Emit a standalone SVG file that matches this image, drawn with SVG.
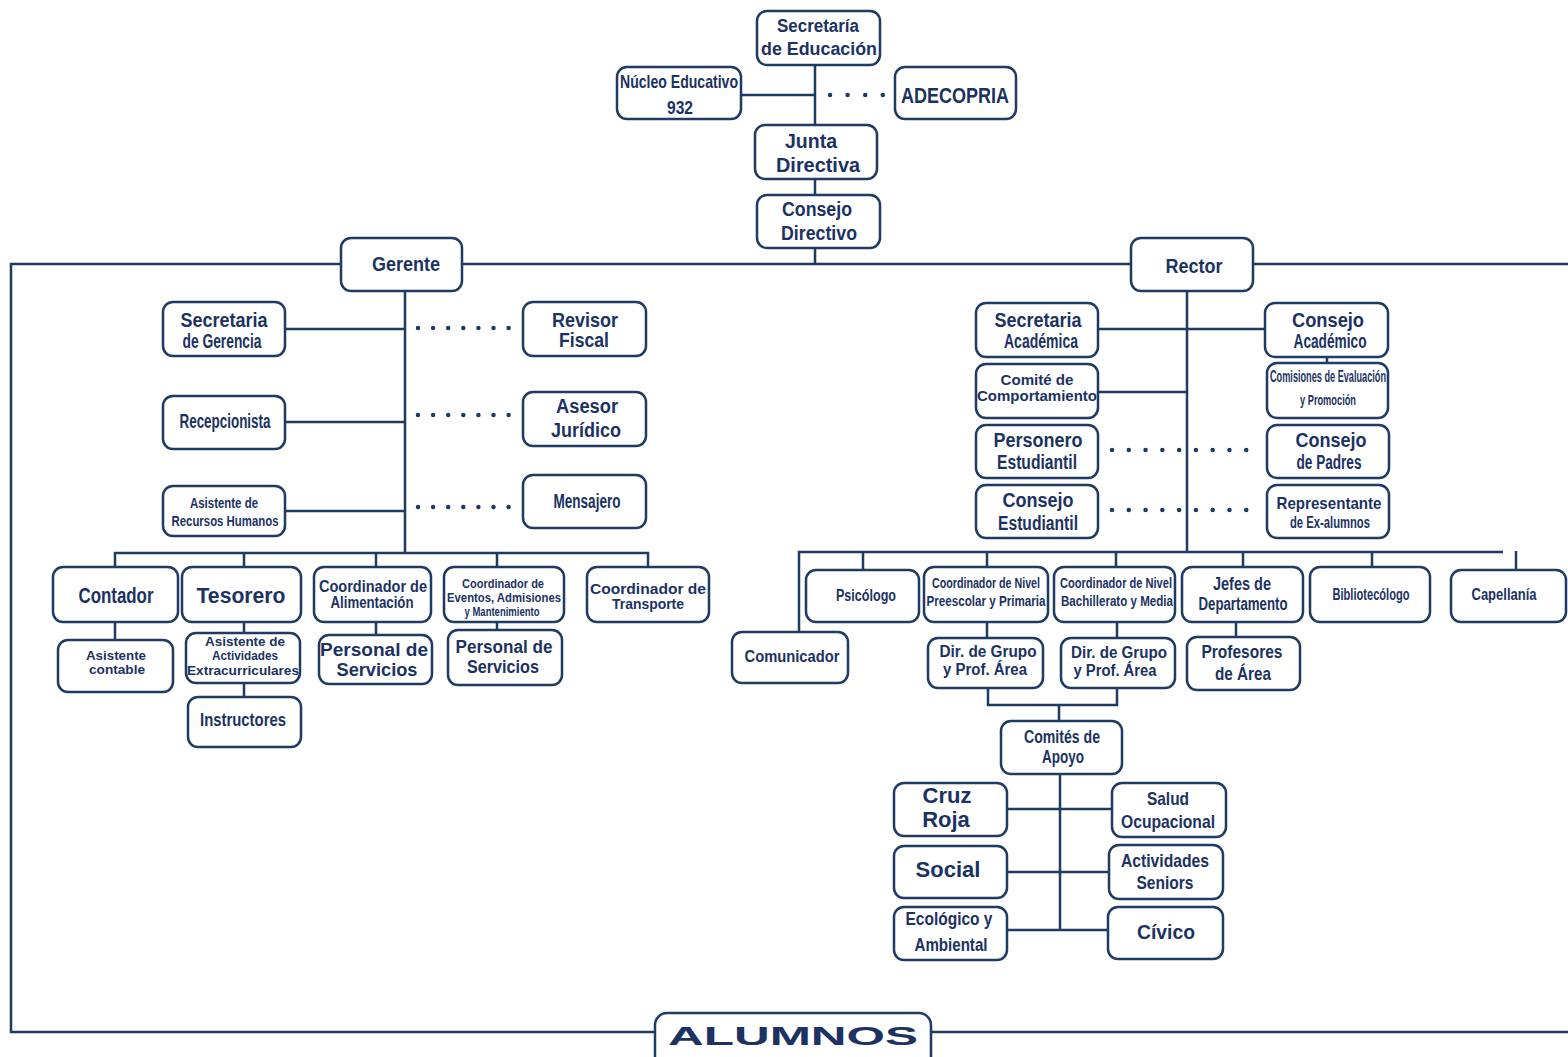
<svg xmlns="http://www.w3.org/2000/svg" width="1568" height="1057" viewBox="0 0 1568 1057">
<style>
.b{fill:#fff;stroke:#1f3a63;stroke-width:2.5}
.t{font-family:"Liberation Sans",Arial,sans-serif;font-weight:bold;fill:#1b3263;text-anchor:middle}
.c{stroke:#1f3a63;stroke-width:2.5;fill:none}
.d{stroke:#1f3a63;stroke-width:4.5;stroke-linecap:round;fill:none}
</style>
<rect width="1568" height="1057" fill="#fff"/>
<g id="connectors">
<path class="c" d="M1568,264 H11 V1032 H655 M931,1032 H1568"/>
<path class="c" d="M815,65 V125 M815,178 V195 M815,247 V264 M741,95 H815"/>
<line class="d" x1="830" y1="95" x2="883" y2="95" stroke-dasharray="0 17.6"/>
<path class="c" d="M405,291 V553 M285,329 H405 M285,422 H405 M285,511 H405"/>
<line class="d" x1="418" y1="328" x2="509" y2="328" stroke-dasharray="0 15.1"/>
<line class="d" x1="418" y1="415" x2="509" y2="415" stroke-dasharray="0 15.1"/>
<line class="d" x1="418" y1="507" x2="509" y2="507" stroke-dasharray="0 15.1"/>
<path class="c" d="M115,567 V553 H648 V567 M244,553 V567 M376,553 V567 M497,553 V567"/>
<path class="c" d="M115,622 V640 M244,622 V633 M244,683 V697 M376,622 V635 M497,622 V630"/>
<path class="c" d="M1187,291 V552 M1098,329 H1265 M1098,392 H1187 M1327,357 V363"/>
<line class="d" x1="1112" y1="450" x2="1263" y2="450" stroke-dasharray="0 16.78"/>
<line class="d" x1="1112" y1="510" x2="1263" y2="510" stroke-dasharray="0 16.78"/>
<path class="c" d="M799,632 V552 H1503 M863,552 V570 M987,552 V567 M1116,552 V567 M1243,552 V567 M1372,552 V567 M1516,551 V570"/>
<path class="c" d="M987,622 V638 M1117,622 V638 M1236,622 V637 M988,688 V705 H1117 V688 M1059,705 V721"/>
<path class="c" d="M1060,774 V930 M1007,809 H1112 M1007,872 H1109 M1007,930 H1108"/>
</g>
<g id="secretaria-educacion"><rect class="b" x="757" y="11" width="123" height="54" rx="10"/><text class="t" x="818" y="32" font-size="18" textLength="82" lengthAdjust="spacingAndGlyphs">Secretaría</text><text class="t" x="819" y="55" font-size="18" textLength="116" lengthAdjust="spacingAndGlyphs">de Educación</text></g>
<g id="nucleo-educativo"><rect class="b" x="617" y="67" width="124" height="52" rx="10"/><text class="t" x="679" y="88" font-size="19" textLength="118" lengthAdjust="spacingAndGlyphs">Núcleo Educativo</text><text class="t" x="680" y="114" font-size="19" textLength="26" lengthAdjust="spacingAndGlyphs">932</text></g>
<g id="adecopria"><rect class="b" x="895" y="67" width="121" height="52" rx="10"/><text class="t" x="955" y="103" font-size="22" textLength="108" lengthAdjust="spacingAndGlyphs">ADECOPRIA</text></g>
<g id="junta-directiva"><rect class="b" x="755" y="125" width="122" height="54" rx="10"/><text class="t" x="811" y="148" font-size="20" textLength="52" lengthAdjust="spacingAndGlyphs">Junta</text><text class="t" x="818" y="172" font-size="20" textLength="84" lengthAdjust="spacingAndGlyphs">Directiva</text></g>
<g id="consejo-directivo"><rect class="b" x="757" y="195" width="123" height="53" rx="10"/><text class="t" x="817" y="216" font-size="20" textLength="70" lengthAdjust="spacingAndGlyphs">Consejo</text><text class="t" x="819" y="240" font-size="20" textLength="76" lengthAdjust="spacingAndGlyphs">Directivo</text></g>
<g id="gerente"><rect class="b" x="341" y="238" width="121" height="53" rx="10"/><text class="t" x="406" y="271" font-size="21" textLength="68" lengthAdjust="spacingAndGlyphs">Gerente</text></g>
<g id="rector"><rect class="b" x="1131" y="238" width="122" height="53" rx="10"/><text class="t" x="1194" y="273" font-size="21" textLength="57" lengthAdjust="spacingAndGlyphs">Rector</text></g>
<g id="secretaria-gerencia"><rect class="b" x="163" y="302" width="122" height="54" rx="10"/><text class="t" x="224" y="327" font-size="21" textLength="87" lengthAdjust="spacingAndGlyphs">Secretaria</text><text class="t" x="222" y="348" font-size="20" textLength="79" lengthAdjust="spacingAndGlyphs">de Gerencia</text></g>
<g id="recepcionista"><rect class="b" x="163" y="396" width="122" height="53" rx="10"/><text class="t" x="225" y="428" font-size="20" textLength="91" lengthAdjust="spacingAndGlyphs">Recepcionista</text></g>
<g id="asistente-rrhh"><rect class="b" x="163" y="486" width="122" height="50" rx="10"/><text class="t" x="224" y="508" font-size="15" textLength="68" lengthAdjust="spacingAndGlyphs">Asistente de</text><text class="t" x="225" y="526" font-size="15" textLength="107" lengthAdjust="spacingAndGlyphs">Recursos Humanos</text></g>
<g id="revisor-fiscal"><rect class="b" x="523" y="302" width="123" height="54" rx="10"/><text class="t" x="585" y="327" font-size="20" textLength="66" lengthAdjust="spacingAndGlyphs">Revisor</text><text class="t" x="584" y="347" font-size="20" textLength="50" lengthAdjust="spacingAndGlyphs">Fiscal</text></g>
<g id="asesor-juridico"><rect class="b" x="523" y="392" width="123" height="54" rx="10"/><text class="t" x="587" y="413" font-size="20" textLength="62" lengthAdjust="spacingAndGlyphs">Asesor</text><text class="t" x="586" y="437" font-size="20" textLength="70" lengthAdjust="spacingAndGlyphs">Jurídico</text></g>
<g id="mensajero"><rect class="b" x="523" y="475" width="123" height="53" rx="10"/><text class="t" x="587" y="508" font-size="20" textLength="67" lengthAdjust="spacingAndGlyphs">Mensajero</text></g>
<g id="contador"><rect class="b" x="53" y="567" width="125" height="55" rx="10"/><text class="t" x="116" y="603" font-size="22" textLength="75" lengthAdjust="spacingAndGlyphs">Contador</text></g>
<g id="tesorero"><rect class="b" x="182" y="567" width="119" height="55" rx="10"/><text class="t" x="241" y="603" font-size="22" textLength="89" lengthAdjust="spacingAndGlyphs">Tesorero</text></g>
<g id="coordinador-alimentacion"><rect class="b" x="314" y="567" width="117" height="55" rx="10"/><text class="t" x="373" y="592" font-size="16" textLength="108" lengthAdjust="spacingAndGlyphs">Coordinador de</text><text class="t" x="372" y="608" font-size="16" textLength="83" lengthAdjust="spacingAndGlyphs">Alimentación</text></g>
<g id="coordinador-eventos"><rect class="b" x="444" y="567" width="120" height="55" rx="10"/><text class="t" x="503" y="588" font-size="12" textLength="82" lengthAdjust="spacingAndGlyphs">Coordinador de</text><text class="t" x="504" y="602" font-size="12.5" textLength="114" lengthAdjust="spacingAndGlyphs">Eventos, Admisiones</text><text class="t" x="502" y="616" font-size="12" textLength="75" lengthAdjust="spacingAndGlyphs">y Mantenimiento</text></g>
<g id="coordinador-transporte"><rect class="b" x="587" y="567" width="122" height="55" rx="10"/><text class="t" x="648" y="594" font-size="15.5" textLength="116" lengthAdjust="spacingAndGlyphs">Coordinador de</text><text class="t" x="648" y="609" font-size="15" textLength="72" lengthAdjust="spacingAndGlyphs">Transporte</text></g>
<g id="asistente-contable"><rect class="b" x="58" y="640" width="115" height="52" rx="10"/><text class="t" x="116" y="660" font-size="13" textLength="60" lengthAdjust="spacingAndGlyphs">Asistente</text><text class="t" x="117" y="674" font-size="13" textLength="56" lengthAdjust="spacingAndGlyphs">contable</text></g>
<g id="asistente-actividades"><rect class="b" x="186" y="633" width="114" height="50" rx="10"/><text class="t" x="245" y="646" font-size="13" textLength="80" lengthAdjust="spacingAndGlyphs">Asistente de</text><text class="t" x="245" y="660" font-size="13" textLength="66" lengthAdjust="spacingAndGlyphs">Actividades</text><text class="t" x="243" y="675" font-size="13" textLength="112" lengthAdjust="spacingAndGlyphs">Extracurriculares</text></g>
<g id="instructores"><rect class="b" x="188" y="697" width="113" height="50" rx="10"/><text class="t" x="243" y="726" font-size="18" textLength="86" lengthAdjust="spacingAndGlyphs">Instructores</text></g>
<g id="personal-servicios-1"><rect class="b" x="319" y="635" width="113" height="49" rx="10"/><text class="t" x="374" y="656" font-size="17.5" textLength="108" lengthAdjust="spacingAndGlyphs">Personal de</text><text class="t" x="377" y="676" font-size="17.5" textLength="81" lengthAdjust="spacingAndGlyphs">Servicios</text></g>
<g id="personal-servicios-2"><rect class="b" x="448" y="630" width="114" height="55" rx="10"/><text class="t" x="504" y="653" font-size="18" textLength="97" lengthAdjust="spacingAndGlyphs">Personal de</text><text class="t" x="503" y="673" font-size="18" textLength="72" lengthAdjust="spacingAndGlyphs">Servicios</text></g>
<g id="secretaria-academica"><rect class="b" x="976" y="303" width="122" height="54" rx="10"/><text class="t" x="1038" y="327" font-size="21" textLength="87" lengthAdjust="spacingAndGlyphs">Secretaria</text><text class="t" x="1041" y="348" font-size="20" textLength="74" lengthAdjust="spacingAndGlyphs">Académica</text></g>
<g id="consejo-academico"><rect class="b" x="1265" y="303" width="123" height="54" rx="10"/><text class="t" x="1328" y="327" font-size="21" textLength="72" lengthAdjust="spacingAndGlyphs">Consejo</text><text class="t" x="1330" y="348" font-size="20" textLength="73" lengthAdjust="spacingAndGlyphs">Académico</text></g>
<g id="comisiones-evaluacion"><rect class="b" x="1267" y="363" width="121" height="55" rx="10"/><text class="t" x="1328" y="382" font-size="16" textLength="116" lengthAdjust="spacingAndGlyphs">Comisiones de Evaluación</text><text class="t" x="1328" y="405" font-size="15" textLength="56" lengthAdjust="spacingAndGlyphs">y Promoción</text></g>
<g id="comite-comportamiento"><rect class="b" x="976" y="364" width="122" height="54" rx="10"/><text class="t" x="1037" y="385" font-size="14" textLength="73" lengthAdjust="spacingAndGlyphs">Comité de</text><text class="t" x="1037" y="401" font-size="14" textLength="120" lengthAdjust="spacingAndGlyphs">Comportamiento</text></g>
<g id="personero-estudiantil"><rect class="b" x="976" y="425" width="122" height="53" rx="10"/><text class="t" x="1038" y="447" font-size="20" textLength="89" lengthAdjust="spacingAndGlyphs">Personero</text><text class="t" x="1037" y="469" font-size="20" textLength="80" lengthAdjust="spacingAndGlyphs">Estudiantil</text></g>
<g id="consejo-padres"><rect class="b" x="1267" y="425" width="122" height="53" rx="10"/><text class="t" x="1331" y="447" font-size="21" textLength="71" lengthAdjust="spacingAndGlyphs">Consejo</text><text class="t" x="1329" y="469" font-size="20" textLength="65" lengthAdjust="spacingAndGlyphs">de Padres</text></g>
<g id="consejo-estudiantil"><rect class="b" x="976" y="485" width="122" height="53" rx="10"/><text class="t" x="1038" y="507" font-size="21" textLength="71" lengthAdjust="spacingAndGlyphs">Consejo</text><text class="t" x="1038" y="530" font-size="20" textLength="80" lengthAdjust="spacingAndGlyphs">Estudiantil</text></g>
<g id="representante-exalumnos"><rect class="b" x="1267" y="485" width="122" height="53" rx="10"/><text class="t" x="1329" y="509" font-size="17" textLength="105" lengthAdjust="spacingAndGlyphs">Representante</text><text class="t" x="1330" y="528" font-size="16" textLength="80" lengthAdjust="spacingAndGlyphs">de Ex-alumnos</text></g>
<g id="psicologo"><rect class="b" x="806" y="570" width="113" height="52" rx="10"/><text class="t" x="866" y="601" font-size="17" textLength="60" lengthAdjust="spacingAndGlyphs">Psicólogo</text></g>
<g id="coordinador-preescolar"><rect class="b" x="924" y="567" width="124" height="55" rx="10"/><text class="t" x="986" y="588" font-size="14" textLength="108" lengthAdjust="spacingAndGlyphs">Coordinador de Nivel</text><text class="t" x="986" y="606" font-size="14.5" textLength="119" lengthAdjust="spacingAndGlyphs">Preescolar y Primaria</text></g>
<g id="coordinador-bachillerato"><rect class="b" x="1054" y="567" width="121" height="55" rx="10"/><text class="t" x="1116" y="588" font-size="14" textLength="112" lengthAdjust="spacingAndGlyphs">Coordinador de Nivel</text><text class="t" x="1117" y="606" font-size="14.5" textLength="112" lengthAdjust="spacingAndGlyphs">Bachillerato y Media</text></g>
<g id="jefes-departamento"><rect class="b" x="1182" y="567" width="121" height="55" rx="10"/><text class="t" x="1242" y="590" font-size="18" textLength="58" lengthAdjust="spacingAndGlyphs">Jefes de</text><text class="t" x="1243" y="610" font-size="18" textLength="89" lengthAdjust="spacingAndGlyphs">Departamento</text></g>
<g id="bibliotecologo"><rect class="b" x="1310" y="567" width="120" height="55" rx="10"/><text class="t" x="1371" y="600" font-size="16" textLength="77" lengthAdjust="spacingAndGlyphs">Bibliotecólogo</text></g>
<g id="capellania"><rect class="b" x="1451" y="570" width="115" height="52" rx="10"/><text class="t" x="1504" y="600" font-size="16" textLength="65" lengthAdjust="spacingAndGlyphs">Capellanía</text></g>
<g id="comunicador"><rect class="b" x="732" y="632" width="116" height="51" rx="10"/><text class="t" x="792" y="662" font-size="17" textLength="95" lengthAdjust="spacingAndGlyphs">Comunicador</text></g>
<g id="dir-grupo-1"><rect class="b" x="928" y="638" width="115" height="50" rx="10"/><text class="t" x="988" y="657" font-size="16" textLength="97" lengthAdjust="spacingAndGlyphs">Dir. de Grupo</text><text class="t" x="985" y="675" font-size="16" textLength="84" lengthAdjust="spacingAndGlyphs">y Prof. Área</text></g>
<g id="dir-grupo-2"><rect class="b" x="1061" y="638" width="114" height="50" rx="10"/><text class="t" x="1119" y="658" font-size="16" textLength="96" lengthAdjust="spacingAndGlyphs">Dir. de Grupo</text><text class="t" x="1115" y="676" font-size="16" textLength="83" lengthAdjust="spacingAndGlyphs">y Prof. Área</text></g>
<g id="profesores-area"><rect class="b" x="1187" y="637" width="113" height="53" rx="10"/><text class="t" x="1242" y="658" font-size="19" textLength="81" lengthAdjust="spacingAndGlyphs">Profesores</text><text class="t" x="1243" y="680" font-size="19" textLength="56" lengthAdjust="spacingAndGlyphs">de Área</text></g>
<g id="comites-apoyo"><rect class="b" x="1001" y="721" width="121" height="53" rx="10"/><text class="t" x="1062" y="743" font-size="18" textLength="76" lengthAdjust="spacingAndGlyphs">Comités de</text><text class="t" x="1063" y="763" font-size="18" textLength="42" lengthAdjust="spacingAndGlyphs">Apoyo</text></g>
<g id="cruz-roja"><rect class="b" x="894" y="783" width="113" height="53" rx="10"/><text class="t" x="947" y="803" font-size="22">Cruz</text><text class="t" x="946" y="827" font-size="22">Roja</text></g>
<g id="salud-ocupacional"><rect class="b" x="1112" y="783" width="114" height="54" rx="10"/><text class="t" x="1168" y="805" font-size="19" textLength="42" lengthAdjust="spacingAndGlyphs">Salud</text><text class="t" x="1168" y="828" font-size="19" textLength="94" lengthAdjust="spacingAndGlyphs">Ocupacional</text></g>
<g id="social"><rect class="b" x="894" y="846" width="113" height="52" rx="10"/><text class="t" x="948" y="877" font-size="22">Social</text></g>
<g id="actividades-seniors"><rect class="b" x="1109" y="845" width="114" height="54" rx="10"/><text class="t" x="1165" y="867" font-size="19" textLength="88" lengthAdjust="spacingAndGlyphs">Actividades</text><text class="t" x="1165" y="889" font-size="19" textLength="57" lengthAdjust="spacingAndGlyphs">Seniors</text></g>
<g id="ecologico-ambiental"><rect class="b" x="894" y="907" width="113" height="53" rx="10"/><text class="t" x="949" y="925" font-size="19" textLength="87" lengthAdjust="spacingAndGlyphs">Ecológico y</text><text class="t" x="951" y="951" font-size="19" textLength="73" lengthAdjust="spacingAndGlyphs">Ambiental</text></g>
<g id="civico"><rect class="b" x="1108" y="907" width="115" height="52" rx="10"/><text class="t" x="1166" y="939" font-size="21" textLength="58" lengthAdjust="spacingAndGlyphs">Cívico</text></g>
<g id="alumnos"><rect class="b" x="655" y="1013" width="276" height="56" rx="12"/><text class="t" x="793" y="1045" font-size="25" font-weight="900" textLength="250" lengthAdjust="spacingAndGlyphs">ALUMNOS</text></g>
</svg>
